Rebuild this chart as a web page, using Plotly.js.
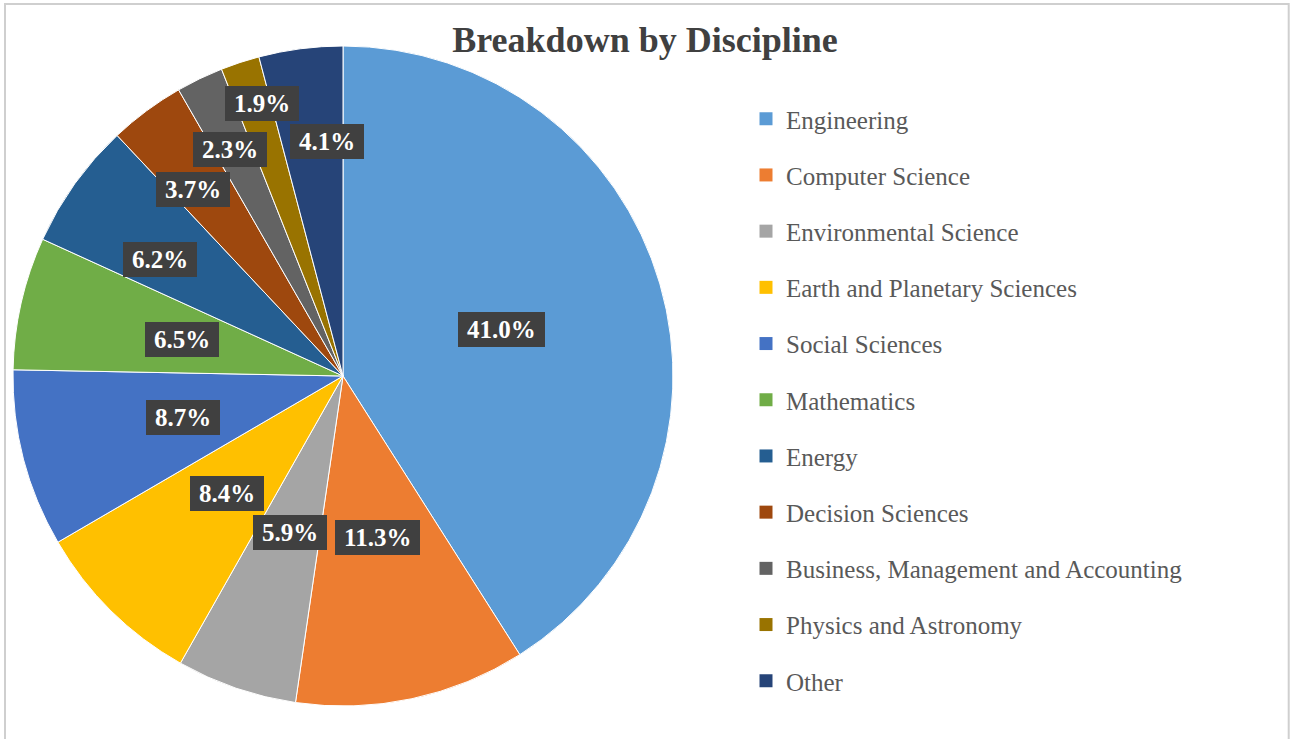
<!DOCTYPE html>
<html>
<head>
<meta charset="utf-8">
<script src="https://cdn.plot.ly/plotly-3.0.1.min.js"></script>
<style>html,body{margin:0;padding:0;background:#fff;}#chart{width:1290px;height:739px;}</style>
</head>
<body>
<div id="chart"></div>
<script>
// ---- data ----
const categories = [
  "Engineering", "Computer Science", "Environmental Science",
  "Earth and Planetary Sciences", "Social Sciences", "Mathematics",
  "Energy", "Decision Sciences", "Business, Management and Accounting",
  "Physics and Astronomy", "Other"
];
const shares = [41.0, 11.3, 5.9, 8.4, 8.7, 6.5, 6.2, 3.7, 2.3, 1.9, 4.1];
const sliceColors = ["#5B9BD5", "#ED7D31", "#A5A5A5", "#FFC000", "#4472C4", "#70AD47",
                     "#255E91", "#9E480E", "#636363", "#997300", "#264478"];

// ---- label placement (style: radial fraction and angle nudge, like Excel manual label moves) ----
const labelRadius = [0.5, 0.5, 0.5, 0.5, 0.5, 0.5, 0.657, 0.727, 0.767, 0.86, 0.713];
const labelNudgeDeg = [0, 0, 0, 0, 0, 0, -3, -2.3, -0.8, 1.6, 3.6];

const W = 1290, H = 739;
const pieDomain = {x: [13 / W, 673 / W], y: [1 - 706 / H, 1 - 46 / H]};

// pie geometry in pixels (as Plotly computes it from the domain)
const cx = W * (pieDomain.x[0] + pieDomain.x[1]) / 2;
const cy = H * (1 - (pieDomain.y[0] + pieDomain.y[1]) / 2);
const R = Math.min(W * (pieDomain.x[1] - pieDomain.x[0]), H * (pieDomain.y[1] - pieDomain.y[0])) / 2;

const total = shares.reduce((a, b) => a + b, 0);
let cum = 0;
const annotations = shares.map((v, i) => {
  const mid = (cum + v / 2) / total * 360 + labelNudgeDeg[i];
  cum += v;
  const th = mid * Math.PI / 180;
  const px = cx + R * labelRadius[i] * Math.sin(th);
  const py = cy - R * labelRadius[i] * Math.cos(th);
  return {
    x: px / W, y: 1 - py / H, xref: 'paper', yref: 'paper',
    xanchor: 'center', yanchor: 'middle', showarrow: false,
    text: '\u2009' + (v / total * 100).toFixed(1) + '%\u2009',
    font: {family: 'Liberation Serif, Times New Roman, serif', size: 25, color: '#ffffff', weight: 700},
    bgcolor: '#404040', borderpad: 4, borderwidth: 0
  };
});

const pieTrace = {
  type: 'pie',
  labels: categories,
  values: shares,
  sort: false,
  direction: 'clockwise',
  rotation: 0,
  marker: {colors: sliceColors, line: {color: '#ffffff', width: 1}},
  textinfo: 'none',
  hoverinfo: 'label+percent',
  showlegend: false,
  domain: pieDomain
};

// legend entries (one per category so spacing between entries can be set)
const legendTraces = categories.map((c, i) => ({
  type: 'scatter', mode: 'markers', x: [null], y: [null],
  name: c, legendgroup: 'g' + i, showlegend: true, hoverinfo: 'skip',
  marker: {symbol: 'square', size: 13, color: sliceColors[i]}
}));

const layout = {
  width: W, height: H,
  margin: {l: 0, r: 0, t: 0, b: 0},
  paper_bgcolor: '#ffffff', plot_bgcolor: '#ffffff',
  xaxis: {visible: false}, yaxis: {visible: false},
  title: {
    text: '<b>Breakdown by Discipline</b>',
    x: 0.5, xanchor: 'center', y: 1 - 39.4 / H, yanchor: 'middle',
    font: {family: 'Liberation Serif, Times New Roman, serif', size: 36, color: '#404040'}
  },
  legend: {
    x: 746 / W, xanchor: 'left', y: 1 - 96 / H, yanchor: 'top',
    font: {family: 'Liberation Serif, Times New Roman, serif', size: 25, color: '#595959'},
    tracegroupgap: 20.7, bgcolor: 'rgba(0,0,0,0)', borderwidth: 0
  },
  annotations: annotations,
  shapes: [{
    type: 'rect', xref: 'paper', yref: 'paper',
    x0: 5 / W, x1: 1288.7 / W, y0: -0.05, y1: 1 - 4 / H,
    line: {color: '#cfcfcf', width: 2}, fillcolor: 'rgba(0,0,0,0)', layer: 'below'
  }]
};

Plotly.newPlot('chart', [pieTrace].concat(legendTraces), layout, {displayModeBar: false, staticPlot: true});
</script>
</body>
</html>
